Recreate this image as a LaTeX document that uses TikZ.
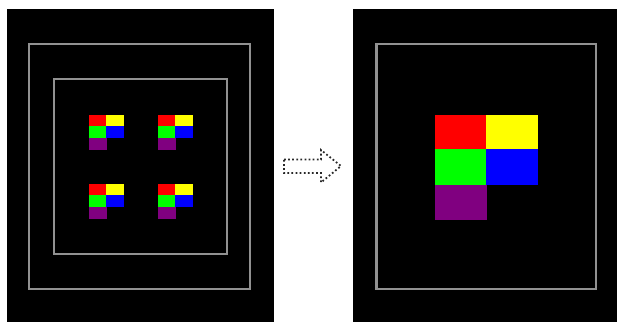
\documentclass[tikz,border=0pt]{standalone}
\usetikzlibrary{positioning}
\definecolor{MarcoGris}{RGB}{145,145,145}
\definecolor{FlechaGris}{RGB}{40,40,40}
\definecolor{Rojo}{RGB}{255,0,0}
\definecolor{Amarillo}{RGB}{255,255,0}
\definecolor{Verde}{RGB}{0,255,0}
\definecolor{Azul}{RGB}{0,0,255}
\definecolor{Morado}{RGB}{128,0,128}
\tikzset{
  panelbg/.style={fill=black, draw=none},
  marcobox/.style={draw=MarcoGris, line width=2.5pt},
  celda/.style={fill=#1, draw=none},
  flechahueca/.style={draw=FlechaGris, dotted, line width=1.5pt, line join=miter},
}
% bloque de cinco celdas: origen (#1,#2), ancho de celda #3, altos #4 y #5
\newcommand{\bloqueceldas}[5]{%
  \fill[celda=Rojo] (#1,#2) rectangle ++(#3,#4);
  \fill[celda=Amarillo] (#1+#3,#2) rectangle ++(#3+1,#4);
  \fill[celda=Verde] (#1,#2+#4) rectangle ++(#3,#5);
  \fill[celda=Azul] (#1+#3,#2+#4) rectangle ++(#3+1,#5);
  \fill[celda=Morado] (#1,#2+#4+#5) rectangle ++(#3+1,#4+1);
}
\begin{document}
\begin{tikzpicture}[x=0.03cm, y=-0.03cm]
  \useasboundingbox (0,0) rectangle (617,322);
  \fill[white] (0,0) rectangle (617,322);
  % ---- panel izquierdo ----
  \fill[panelbg] (7,9) rectangle (274,322);
  \draw[marcobox] (29,44) rectangle (250,289);
  \draw[marcobox] (54,79) rectangle (227,254);
  \foreach \dx in {0,69}
    \foreach \dy in {0,69}
      {\bloqueceldas{89+\dx}{115+\dy}{17}{11}{11.5}}
  % ---- flecha ----
  \draw[flechahueca] (284,159.5) -- (321,159.5) -- (321,150) -- (341,166)
    -- (321,182.5) -- (321,173) -- (284,173) -- cycle;
  % ---- panel derecho ----
  \fill[panelbg] (353,9) rectangle (617,322);
  \draw[marcobox] (376.5,44) rectangle (596,289);
  \bloqueceldas{435}{115}{51}{34}{36}
\end{tikzpicture}
\end{document}
